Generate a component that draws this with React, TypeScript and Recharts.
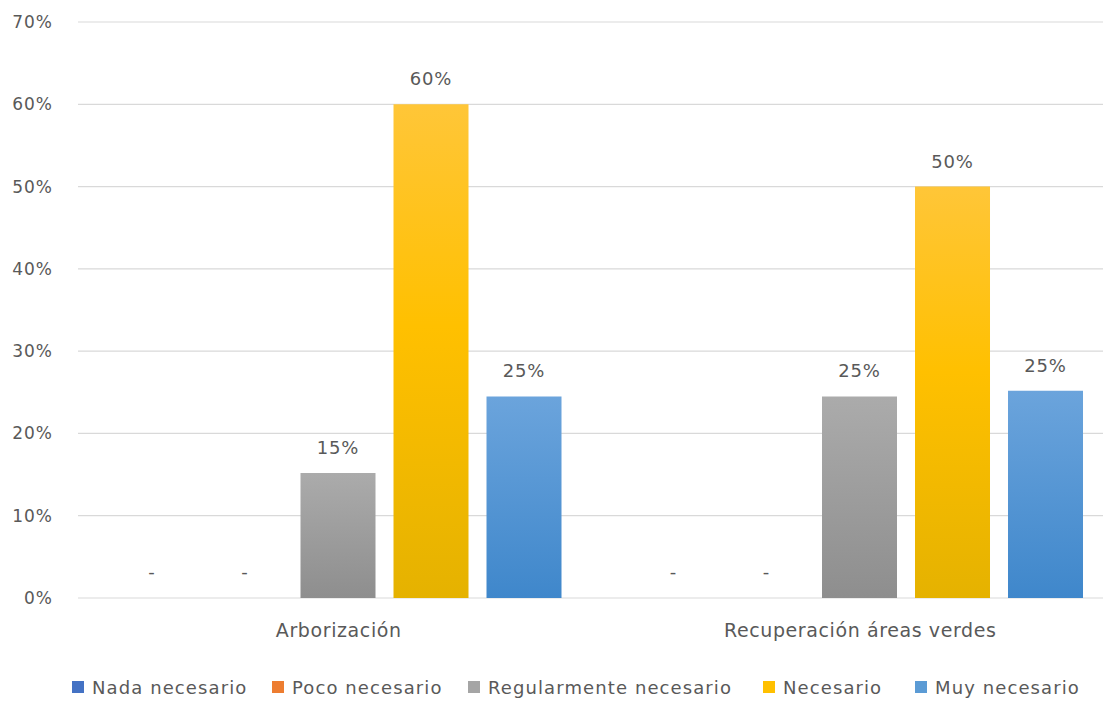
import React from "react";
import { BarChart, Bar, XAxis, YAxis, CartesianGrid, Legend, LabelList, Rectangle } from "recharts";

const categories = ["Arborización", "Recuperación áreas verdes"];
const nadaNecesario = [0, 0];
const pocoNecesario = [0, 0];
const regularmenteNecesario = [15.2, 24.5];
const necesario = [60, 50];
const muyNecesario = [24.5, 25.2];
const yTicks = [0, 10, 20, 30, 40, 50, 60, 70];

const seriesDefs = [
  { key: "nada", name: "Nada necesario", color: "#4472C4", fill: "#4472C4" },
  { key: "poco", name: "Poco necesario", color: "#ED7D31", fill: "#ED7D31" },
  { key: "regular", name: "Regularmente necesario", color: "#A5A5A5", fill: "url(#gGray)" },
  { key: "nec", name: "Necesario", color: "#FFC000", fill: "url(#gYellow)" },
  { key: "muy", name: "Muy necesario", color: "#5B9BD5", fill: "url(#gBlue)" },
];

const legendLeft = [72, 272, 468, 763, 915];

const data = categories.map((c, i) => ({
  name: c,
  nada: nadaNecesario[i],
  poco: pocoNecesario[i],
  regular: regularmenteNecesario[i],
  nec: necesario[i],
  muy: muyNecesario[i],
}));

const FONT = "'DejaVu Sans', sans-serif";
const TEXT = "#595959";

const fmt = (v: any) => (Number(v) === 0 ? "-" : `${Math.round(Number(v))}%`);

const BarShape = (props: any) => {
  const key = props.dataKey;
  const v = props.payload ? Number(props.payload[key]) : Number(props.value);
  if (!v) return <g />;
  return <Rectangle {...props} />;
};

const LegendContent = () => (
  <div
    style={{
      position: "relative",
      height: 54,
      fontFamily: FONT,
      fontSize: 18,
      letterSpacing: 1.1,
      color: TEXT,
      whiteSpace: "nowrap",
    }}
  >
    {seriesDefs.map((s, i) => (
      <span
        key={s.key}
        style={{
          position: "absolute",
          left: legendLeft[i],
          top: 28,
          display: "inline-flex",
          alignItems: "center",
          height: 22,
        }}
      >
        <span style={{ display: "inline-block", width: 12, height: 12, background: s.color, marginRight: 8 }} />
        {s.name}
      </span>
    ))}
  </div>
);

export default function App() {
  return (
    <div style={{ margin: "-8px 0 0 -8px", width: 1111, height: 702, overflow: "hidden", background: "#fff" }}>
      <BarChart
        width={1125}
        height={702}
        data={data}
        margin={{ top: 22, right: 4, left: 0, bottom: 0 }}
        barCategoryGap="7%"
        barGap={18}
      >
        <defs>
          <linearGradient id="gGray" x1="0" y1="0" x2="0" y2="1">
            <stop offset="0%" stopColor="#ABABAB" />
            <stop offset="100%" stopColor="#8E8E8E" />
          </linearGradient>
          <linearGradient id="gYellow" x1="0" y1="0" x2="0" y2="1">
            <stop offset="0%" stopColor="#FFC638" />
            <stop offset="45%" stopColor="#FFC000" />
            <stop offset="100%" stopColor="#E5B200" />
          </linearGradient>
          <linearGradient id="gBlue" x1="0" y1="0" x2="0" y2="1">
            <stop offset="0%" stopColor="#6BA4DC" />
            <stop offset="100%" stopColor="#3F87CB" />
          </linearGradient>
        </defs>
        <CartesianGrid vertical={false} stroke="#D9D9D9" strokeWidth={1.2} />
        <XAxis
          dataKey="name"
          axisLine={false}
          tickLine={false}
          tickSize={0}
          tickMargin={26}
          height={50}
          tick={{ fill: TEXT, fontFamily: FONT, fontSize: 19, letterSpacing: 0.6 }}
        />
        <YAxis
          domain={[0, 70]}
          ticks={yTicks}
          interval={0}
          axisLine={false}
          tickLine={false}
          tickSize={0}
          tickMargin={25}
          width={78}
          tickFormatter={(v: number) => `${v}%`}
          tick={{ fill: TEXT, fontFamily: FONT, fontSize: 17, letterSpacing: 1 }}
        />
        <Legend verticalAlign="bottom" height={54} content={<LegendContent />} />
        {seriesDefs.map((s) => (
          <Bar
            key={s.key}
            dataKey={s.key}
            name={s.name}
            fill={s.fill}
            minPointSize={1}
            shape={<BarShape dataKey={s.key} />}
            isAnimationActive={false}
          >
            <LabelList
              dataKey={s.key}
              position="top"
              offset={19}
              formatter={fmt}
              style={{ fill: TEXT, fontFamily: FONT, fontSize: 18, letterSpacing: 0.8 }}
            />
          </Bar>
        ))}
      </BarChart>
    </div>
  );
}
